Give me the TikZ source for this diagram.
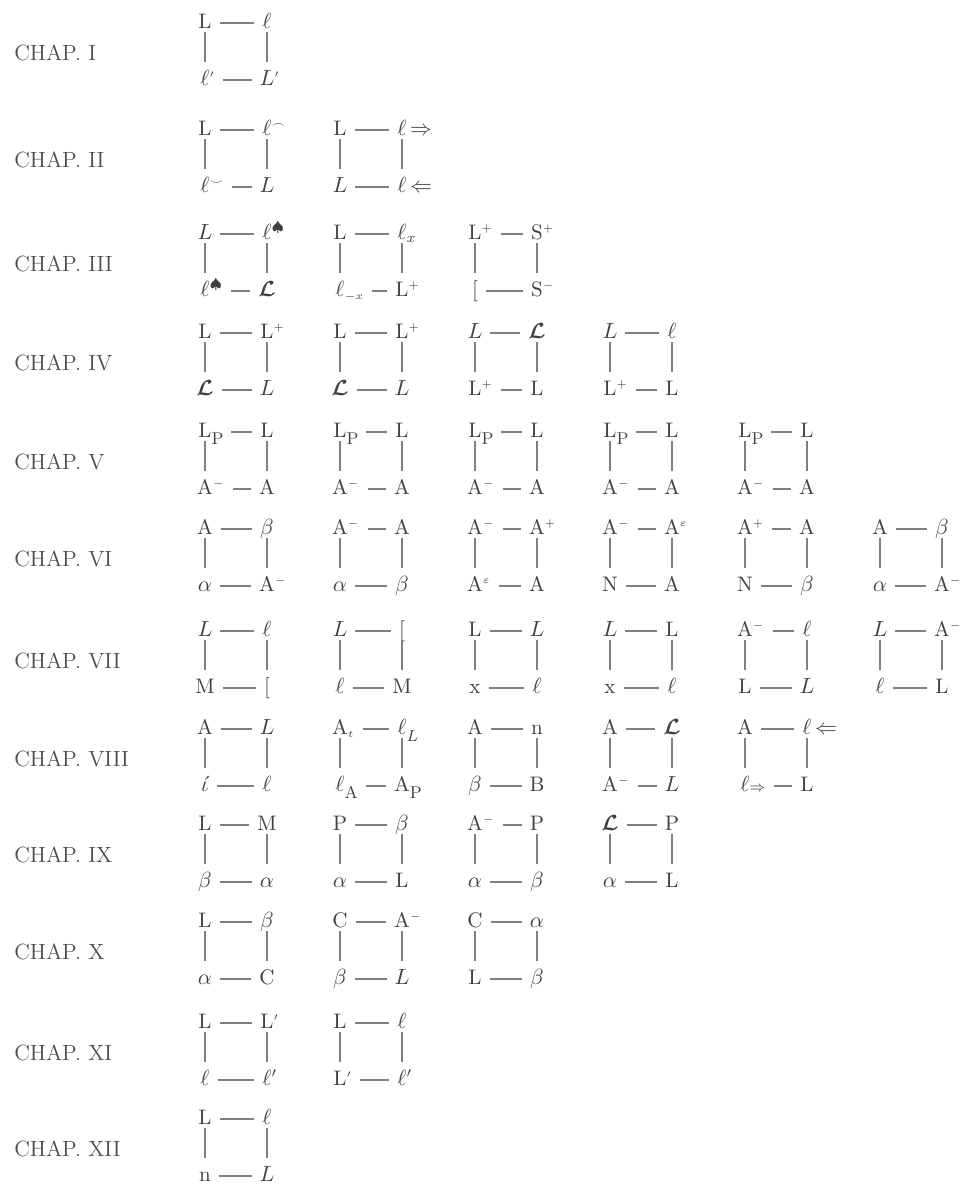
\documentclass[tikz,border=0pt]{standalone}
\usepackage{amsmath}
\newcommand{\lsym}[2]{\phantom{#2}#1#2}
\newcommand{\rsym}[2]{\rlap{#1#2}\phantom{#1}}
\newcommand{\scrL}{$\boldsymbol{\mathcal{L}}$}
\newcommand{\iL}{$L$}
\newcommand{\el}{$\ell$}
\newcommand{\sps}[1]{$^{\scriptscriptstyle #1}$}
\newcommand{\bigsub}[1]{\lower3.5pt\hbox{\fontsize{8.5}{10}\selectfont #1}}
\newcommand{\sm}{$^{\scriptscriptstyle\prime}$}
\newcommand{\chapsq}[7]{%
  \node[sym] (#3a) at ({205+135*#1},{#2-22}) {#4};
  \node[sym] (#3b) at ({267+135*#1},{#2-22}) {#5};
  \node[sym] (#3c) at ({205+135*#1},{#2+35}) {#6};
  \node[sym] (#3d) at ({267+135*#1},{#2+35}) {#7};
  \draw[conn] ([shift={(4pt,2.4pt)}]#3a.base east) -- ([shift={(-4pt,2.4pt)}]#3b.base west);
  \draw[conn] ([shift={(4pt,2.4pt)}]#3c.base east) -- ([shift={(-4pt,2.4pt)}]#3d.base west);
  \draw[conn] ([yshift=-2pt]#3a.base) -- ([yshift=11.5pt]#3c.base);
  \draw[conn] ([yshift=-2pt]#3b.base) -- ([yshift=11.5pt]#3d.base);
}
\tikzset{
  sym/.style={anchor=base, inner sep=0pt, outer sep=0pt, font=\fontsize{10.5}{12}\selectfont, text=black!75},
  conn/.style={draw=black!50, line width=0.8pt},
  chap/.style={anchor=base west, inner sep=0pt, font=\fontsize{11}{13}\selectfont, text=black!70}
}
\begin{document}
\begin{tikzpicture}[x=0.5pt,y=-0.5pt]
\useasboundingbox[fill=white] (0,0) rectangle (960,1184);
% chapter labels
\node[chap] (l1) at (14,60) {CHAP. I};
\node[chap] (l2) at (14,167) {CHAP. II};
\node[chap] (l3) at (14,271) {CHAP. III};
\node[chap] (l4) at (14,370) {CHAP. IV};
\node[chap] (l5) at (14,469) {CHAP. V};
\node[chap] (l6) at (14,566) {CHAP. VI};
\node[chap] (l7) at (14,668) {CHAP. VII};
\node[chap] (l8) at (14,766) {CHAP. VIII};
\node[chap] (l9) at (14,862) {CHAP. IX};
\node[chap] (l10) at (14,959) {CHAP. X};
\node[chap] (l11) at (14,1060) {CHAP. XI};
\node[chap] (l12) at (14,1156) {CHAP. XII};
% I
\chapsq{0}{50}{ia}{L}{\el}{\lsym{\el}{\sm}}{\rsym{\iL}{\sm}}
% II
\chapsq{0}{157}{iia}{L}{\rsym{\el}{\sps{\frown}}}{\lsym{\el}{\sps{\smile}}}{\iL}
\chapsq{1}{157}{iib}{L}{\rsym{\el}{\,$\Rightarrow$}}{\iL}{\rsym{\el}{\,$\Leftarrow$}}
% III
\chapsq{0}{261}{iiia}{\iL}{\rsym{\el}{$^{\spadesuit}$}}{\lsym{\el}{$^{\spadesuit}$}}{\scrL}
\chapsq{1}{261}{iiib}{L}{\rsym{\el}{$_{x}$}}{\lsym{\el}{$_{\scriptscriptstyle -x}$}}{\rsym{L}{\sps{+}}}
\chapsq{2}{261}{iiic}{\lsym{L}{\sps{+}}}{\rsym{S}{\sps{+}}}{[}{\rsym{S}{\sps{-}}}
% IV
\chapsq{0}{360}{iva}{L}{\rsym{L}{\sps{+}}}{\scrL}{\iL}
\chapsq{1}{360}{ivb}{L}{\rsym{L}{\sps{+}}}{\scrL}{\iL}
\chapsq{2}{360}{ivc}{\iL}{\scrL}{\lsym{L}{\sps{+}}}{L}
\chapsq{3}{360}{ivd}{\iL}{\el}{\lsym{L}{\sps{+}}}{L}
% V
\chapsq{0}{459}{va}{\lsym{L}{\bigsub{P}}}{L}{\lsym{A}{\sps{-}}}{A}
\chapsq{1}{459}{vb}{\lsym{L}{\bigsub{P}}}{L}{\lsym{A}{\sps{-}}}{A}
\chapsq{2}{459}{vc}{\lsym{L}{\bigsub{P}}}{L}{\lsym{A}{\sps{-}}}{A}
\chapsq{3}{459}{vd}{\lsym{L}{\bigsub{P}}}{L}{\lsym{A}{\sps{-}}}{A}
\chapsq{4}{459}{ve}{\lsym{L}{\bigsub{P}}}{L}{\lsym{A}{\sps{-}}}{A}
% VI
\chapsq{0}{556}{via}{A}{$\beta$}{$\alpha$}{\rsym{A}{\sps{-}}}
\chapsq{1}{556}{vib}{\lsym{A}{\sps{-}}}{A}{$\alpha$}{$\beta$}
\chapsq{2}{556}{vic}{\lsym{A}{\sps{-}}}{\rsym{A}{\sps{+}}}{\lsym{A}{\sps{\varepsilon}}}{A}
\chapsq{3}{556}{vid}{\lsym{A}{\sps{-}}}{\rsym{A}{\sps{\varepsilon}}}{N}{A}
\chapsq{4}{556}{vie}{\lsym{A}{\sps{+}}}{A}{N}{$\beta$}
\chapsq{5}{556}{vif}{A}{$\beta$}{$\alpha$}{\rsym{A}{\sps{-}}}
% VII
\chapsq{0}{658}{viia}{\iL}{\el}{M}{[}
\chapsq{1}{658}{viib}{\iL}{[}{\el}{M}
\chapsq{2}{658}{viic}{L}{\iL}{x}{\el}
\chapsq{3}{658}{viid}{\iL}{L}{x}{\el}
\chapsq{4}{658}{viie}{\lsym{A}{\sps{-}}}{\el}{L}{\iL}
\chapsq{5}{658}{viif}{\iL}{\rsym{A}{\sps{-}}}{\el}{L}
% VIII
\chapsq{0}{756}{viiia}{A}{\iL}{$\acute{\iota}$}{\el}
\chapsq{1}{756}{viiib}{\lsym{A}{$_{\scriptscriptstyle t}$}}{\rsym{\el}{\bigsub{$L$}}}{\lsym{\el}{\bigsub{A}}}{\rsym{A}{\bigsub{P}}}
\chapsq{2}{756}{viiic}{A}{n}{$\beta$}{B}
\chapsq{3}{756}{viiid}{A}{\scrL}{\lsym{A}{\sps{-}}}{\iL}
\chapsq{4}{756}{viiie}{A}{\rsym{\el}{\,$\Leftarrow$}}{\lsym{\el}{$\scriptstyle\Rightarrow$}}{L}
% IX
\chapsq{0}{852}{ixa}{L}{M}{$\beta$}{$\alpha$}
\chapsq{1}{852}{ixb}{P}{$\beta$}{$\alpha$}{L}
\chapsq{2}{852}{ixc}{\lsym{A}{\sps{-}}}{P}{$\alpha$}{$\beta$}
\chapsq{3}{852}{ixd}{\scrL}{P}{$\alpha$}{L}
% X
\chapsq{0}{949}{xa}{L}{$\beta$}{$\alpha$}{C}
\chapsq{1}{949}{xb}{C}{\rsym{A}{\sps{-}}}{$\beta$}{\iL}
\chapsq{2}{949}{xc}{C}{$\alpha$}{L}{$\beta$}
% XI
\chapsq{0}{1050}{xia}{L}{\rsym{L}{\sm}}{\el}{\rsym{\el}{$^{\prime}$}}
\chapsq{1}{1050}{xib}{L}{\el}{\lsym{L}{\sm}}{\rsym{\el}{$^{\prime}$}}
% XII
\chapsq{0}{1146}{xiia}{L}{\el}{n}{\iL}
\end{tikzpicture}
\end{document}
